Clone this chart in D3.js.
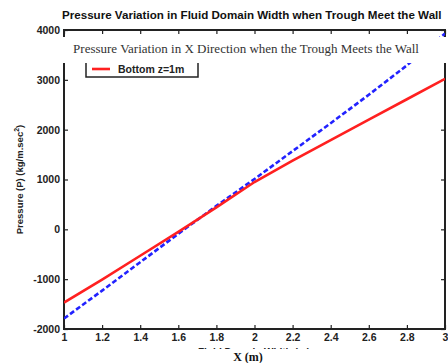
<!DOCTYPE html>
<html>
<head>
<meta charset="utf-8">
<script src="https://cdn.jsdelivr.net/npm/d3@7"></script>
<style>
  body { margin: 0; background: #fff; }
  svg { display: block; font-family: "Liberation Sans", Arial, sans-serif; }
</style>
</head>
<body>
<svg></svg>
<script>
const width = 448;
const height = 363;

// data
const xValues = [1, 1.2, 1.4, 1.6, 1.8, 2.0, 2.2, 2.4, 2.6, 2.8, 3.0];
const bottomValues = [-1470, -1010, -530, -50, 440, 950, 1380, 1790, 2200, 2610, 3020];
const otherValues = [-1790, -1230, -660, -90, 470, 1010, 1570, 2130, 2700, 3290, 3930];
const xTicks = [1, 1.2, 1.4, 1.6, 1.8, 2, 2.2, 2.4, 2.6, 2.8, 3];
const yTicks = [-2000, -1000, 0, 1000, 2000, 3000, 4000];
const legendLabel = "Bottom z=1m";

const margin = { top: 30, right: 3, bottom: 34, left: 64 };

const svg = d3.select("svg")
    .attr("width", width)
    .attr("height", height);

const x = d3.scaleLinear().domain([1, 3]).range([margin.left, width - margin.right]);
const y = d3.scaleLinear().domain([-2000, 4000]).range([height - margin.bottom, margin.top]);

svg.append("clipPath").attr("id", "plot")
  .append("rect")
    .attr("x", x(1)).attr("y", y(4000))
    .attr("width", x(3) - x(1)).attr("height", y(-2000) - y(4000));

// title
svg.append("text")
    .attr("x", 62).attr("y", 19)
    .attr("font-size", 11.6).attr("font-weight", "bold")
    .attr("fill", "#111")
    .text("Pressure Variation in Fluid Domain Width when Trough Meet the Wall");

// axes (ticks pointing inward)
const fmt = d => String(d);
svg.append("g")
    .attr("transform", `translate(0,${y(-2000)})`)
    .call(d3.axisBottom(x).tickValues(xTicks).tickFormat(fmt).tickSizeInner(-4).tickSizeOuter(0).tickPadding(5))
    .call(g => g.select(".domain").remove());
svg.append("g")
    .attr("transform", `translate(0,${y(4000)})`)
    .call(d3.axisTop(x).tickValues(xTicks).tickFormat("").tickSizeInner(-4).tickSizeOuter(0))
    .call(g => g.select(".domain").remove());
svg.append("g")
    .attr("transform", `translate(${x(1)},0)`)
    .call(d3.axisLeft(y).tickValues(yTicks).tickFormat(fmt).tickSizeInner(-4).tickSizeOuter(0).tickPadding(4))
    .call(g => g.select(".domain").remove());
svg.append("g")
    .attr("transform", `translate(${x(3)},0)`)
    .call(d3.axisRight(y).tickValues(yTicks).tickFormat("").tickSizeInner(-4).tickSizeOuter(0))
    .call(g => g.select(".domain").remove());

svg.selectAll(".tick line").attr("stroke", "#222").attr("stroke-width", 1.2);
svg.selectAll(".tick text")
    .attr("font-size", 10.5).attr("font-weight", "bold")
    .attr("font-family", "'Liberation Sans', Arial, sans-serif")
    .attr("fill", "#222");

// frame
svg.append("rect")
    .attr("x", x(1)).attr("y", y(4000))
    .attr("width", x(3) - x(1)).attr("height", y(-2000) - y(4000))
    .attr("fill", "none").attr("stroke", "#222").attr("stroke-width", 2);

// lines
const line = vals => d3.line().x((d, i) => x(xValues[i])).y(d => y(d))(vals);

svg.append("path")
    .attr("clip-path", "url(#plot)")
    .attr("d", line(otherValues))
    .attr("fill", "none").attr("stroke", "#2222ff")
    .attr("stroke-width", 2.6).attr("stroke-dasharray", "5,2.5");

svg.append("path")
    .attr("clip-path", "url(#plot)")
    .attr("d", line(bottomValues))
    .attr("fill", "none").attr("stroke", "#ff2020")
    .attr("stroke-width", 2.6);

// legend
const legend = svg.append("g").attr("transform", "translate(86,52)");
legend.append("rect")
    .attr("width", 112).attr("height", 25)
    .attr("fill", "#fff").attr("stroke", "#222").attr("stroke-width", 1.5);
legend.append("line")
    .attr("x1", 6).attr("x2", 24).attr("y1", 17).attr("y2", 17)
    .attr("stroke", "#ff2020").attr("stroke-width", 2.6);
legend.append("text")
    .attr("x", 32).attr("y", 21)
    .attr("font-size", 10.5).attr("font-weight", "bold").attr("fill", "#222")
    .text(legendLabel);

// y label
svg.append("text")
    .attr("transform", `translate(23,${(y(4000) + y(-2000)) / 2}) rotate(-90)`)
    .attr("text-anchor", "middle")
    .attr("font-size", 9.5).attr("font-weight", "bold").attr("fill", "#222")
    .call(t => {
        t.append("tspan").text("Pressure  (P) (kg/m.sec");
        t.append("tspan").attr("font-size", 7).attr("dy", -4).text("2");
        t.append("tspan").attr("dy", 4).text(")");
    });

// original x label, mostly hidden by the pasted caption
svg.append("text")
    .attr("x", 254).attr("y", 356)
    .attr("text-anchor", "middle")
    .attr("font-size", 10).attr("font-weight", "bold").attr("fill", "#222")
    .text("Fluid Domain Width (m)");
svg.append("rect")
    .attr("x", 150).attr("y", 349).attr("width", 200).attr("height", 14)
    .attr("fill", "#fff");
svg.append("text")
    .attr("x", 248).attr("y", 361)
    .attr("text-anchor", "middle")
    .attr("font-family", "'Liberation Serif', 'Times New Roman', serif")
    .attr("font-size", 12).attr("font-weight", "bold").attr("fill", "#111")
    .text("X (m)");

// pasted caption over the top of the plot
svg.append("rect")
    .attr("x", 60).attr("y", 37).attr("width", 388).attr("height", 26)
    .attr("fill", "#fff");
svg.append("text")
    .attr("x", 246).attr("y", 53)
    .attr("text-anchor", "middle")
    .attr("font-family", "'Liberation Serif', 'Times New Roman', serif")
    .attr("font-size", 13).attr("fill", "#333")
    .text("Pressure Variation in X Direction when the Trough Meets the Wall");
</script>
</body>
</html>
